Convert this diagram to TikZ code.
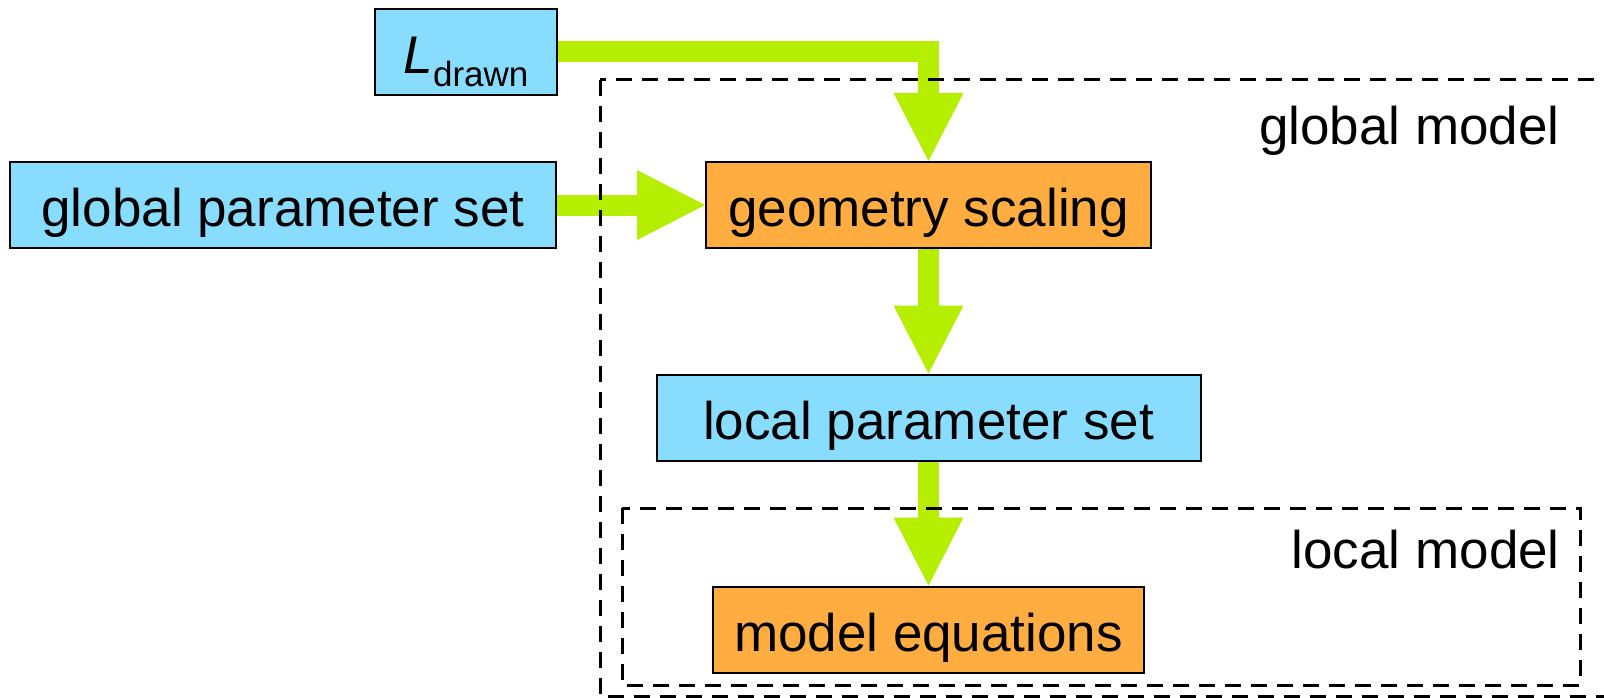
\documentclass[tikz,border=0pt]{standalone}
\usepackage{fontspec}
\setmainfont{Liberation Sans}
\usetikzlibrary{arrows.meta,backgrounds}
\definecolor{boxblue}{RGB}{136,221,255}
\definecolor{boxorange}{RGB}{255,173,64}
\definecolor{arrowgreen}{RGB}{182,238,0}
\begin{document}
\begin{tikzpicture}[x=1pt,y=-1pt,
  box/.style={draw=black,line width=2pt,inner sep=0pt,text height=55pt,text depth=12pt,
    minimum height=86pt,font=\fontsize{53}{60}\selectfont},
  bluebox/.style={box,fill=boxblue},
  orangebox/.style={box,fill=boxorange},
  flow/.style={draw=arrowgreen,line width=21pt,line join=miter,
    -{Triangle[width=70pt,length=68pt,line width=0pt]}},
  region/.style={draw=black,line width=3pt,dash pattern=on 16pt off 10pt},
  regionlabel/.style={anchor=base east,inner sep=0pt,font=\fontsize{53}{60}\selectfont}]
\useasboundingbox (0,0) rectangle (1604,698);
\clip (0,0) rectangle (1604,698);

\node[bluebox,minimum width=182pt] (L) at (466,52)
  {\textit{L}\raisebox{-13pt}{\fontsize{35}{40}\selectfont drawn}};
\node[bluebox,minimum width=546pt] (gps) at (283,205) {global parameter set};
\node[orangebox,minimum width=445pt] (geo) at (928.5,205) {geometry scaling};
\node[bluebox,minimum width=544pt] (lps) at (928.5,417.5) {local parameter set};
\node[orangebox,minimum width=431pt] (meq) at (928.5,629.5) {model equations};

\begin{pgfonlayer}{background}
\fill[white] (0,0) rectangle (1604,698);
\draw[flow] (L.east) -| (geo.north);
\draw[flow] (gps.east) -- (geo.west);
\draw[flow] (geo.south) -- (lps.north);
\draw[flow] (lps.south) -- (meq.north);
\end{pgfonlayer}

\coordinate (gtl) at (600,80);
\coordinate (gbr) at (1625,696);
\draw[region] (gtl) rectangle (gbr);
\coordinate (ltl) at (622,508);
\coordinate (lbr) at (1580,685);
\draw[region] (ltl) rectangle (lbr);

\node[regionlabel] (gml) at (1560,145) {global model};
\node[regionlabel] (lml) at (1560,568) {local model};
\end{tikzpicture}
\end{document}
